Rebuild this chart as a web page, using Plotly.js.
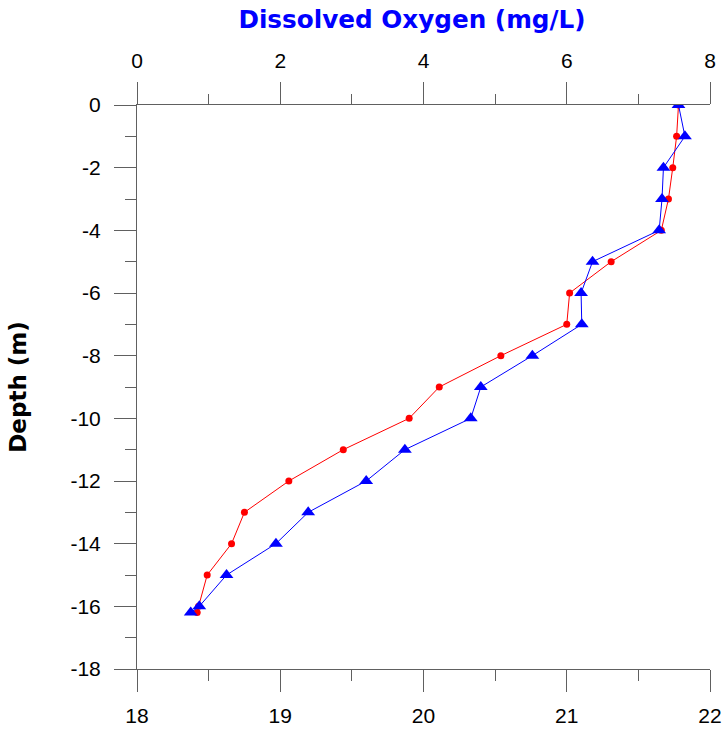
<!DOCTYPE html>
<html>
<head>
<meta charset="utf-8">
<script src="https://cdn.plot.ly/plotly-3.0.1.min.js"></script>
<style>
  html, body { margin: 0; padding: 0; background: #ffffff; }
  #chart { width: 725px; height: 734px; }
</style>
</head>
<body>
<div id="chart"></div>
<script>
// Depth (m)
var depth = [0, -1, -2, -3, -4, -5, -6, -7, -8, -9, -10, -11, -12, -13, -14, -15, -16, -16.2];
// Temperature (bottom axis, red circles)
var temperature = [21.78, 21.767, 21.74, 21.71, 21.66, 21.31, 21.02, 21.00, 20.54, 20.11, 19.90, 19.44, 19.06, 18.75, 18.66, 18.49, 18.43, 18.42];
// Dissolved oxygen mg/L (top axis, blue triangles)
var dissolvedOxygen = [7.56, 7.65, 7.35, 7.33, 7.29, 6.36, 6.20, 6.21, 5.52, 4.80, 4.66, 3.74, 3.20, 2.39, 1.94, 1.25, 0.87, 0.75];

// Tick labels
var depthTicks = [0, -2, -4, -6, -8, -10, -12, -14, -16, -18];
var depthTickText = ['0', '-2', '-4', '-6', '-8', '-10', '-12', '-14', '-16', '-18'];
var tempTicks = [18, 19, 20, 21, 22];
var doTicks = [0, 2, 4, 6, 8];

var axisColor = '#606060';
var tickFont = { family: 'Liberation Sans, Arial, sans-serif', size: 21, color: '#000000' };

var traces = [
  {
    x: temperature, y: depth, xaxis: 'x', yaxis: 'y',
    mode: 'lines+markers', type: 'scatter',
    line: { color: '#ff0000', width: 1 },
    marker: { color: '#ff0000', size: 7, symbol: 'circle' },
    name: 'Temperature', showlegend: false
  },
  {
    x: dissolvedOxygen, y: depth, xaxis: 'x2', yaxis: 'y',
    mode: 'lines+markers', type: 'scatter',
    line: { color: '#0000ff', width: 1 },
    marker: { color: '#0000ff', size: 12, symbol: 'triangle-up' },
    name: 'Dissolved Oxygen', showlegend: false
  }
];

var layout = {
  width: 725, height: 734,
  paper_bgcolor: '#ffffff', plot_bgcolor: '#ffffff',
  margin: { l: 137, r: 15, t: 105, b: 65, pad: 0 },
  showlegend: false,
  title: {
    text: 'Dissolved Oxygen (mg/L)',
    font: { family: 'DejaVu Sans, sans-serif', size: 24.7, color: '#0000ff', weight: 'bold' },
    xref: 'container', yref: 'container',
    x: 412 / 725, xanchor: 'center',
    y: 1 - 19 / 734, yanchor: 'middle'
  },
  xaxis: {
    range: [18, 22], side: 'bottom', anchor: 'y',
    tickmode: 'array', tickvals: tempTicks, ticktext: tempTicks.map(String),
    ticks: 'outside', ticklen: 22, tickwidth: 1, tickcolor: axisColor,
    minor: { dtick: 0.5, tick0: 18, ticks: 'outside', ticklen: 11, tickwidth: 1, tickcolor: axisColor, showgrid: false },
    showline: true, linecolor: axisColor, linewidth: 1,
    showgrid: false, zeroline: false,
    tickfont: tickFont, ticklabelstandoff: 6
  },
  xaxis2: {
    range: [0, 8], side: 'top', overlaying: 'x', anchor: 'y',
    tickmode: 'array', tickvals: doTicks, ticktext: doTicks.map(String),
    ticks: 'outside', ticklen: 22, tickwidth: 1, tickcolor: axisColor,
    minor: { dtick: 1, tick0: 0, ticks: 'outside', ticklen: 10, tickwidth: 1, tickcolor: axisColor, showgrid: false },
    showline: true, linecolor: axisColor, linewidth: 1,
    showgrid: false, zeroline: false,
    tickfont: tickFont, ticklabelstandoff: 6
  },
  yaxis: {
    range: [-18, 0],
    tickmode: 'array', tickvals: depthTicks, ticktext: depthTickText,
    ticks: 'outside', ticklen: 22, tickwidth: 1, tickcolor: axisColor,
    minor: { dtick: 1, tick0: 0, ticks: 'outside', ticklen: 11, tickwidth: 1, tickcolor: axisColor, showgrid: false },
    showline: true, linecolor: axisColor, linewidth: 1,
    showgrid: false, zeroline: false,
    tickfont: tickFont, ticklabelstandoff: 9,
    title: {
      text: 'Depth (m)',
      font: { family: 'DejaVu Sans, sans-serif', size: 23, color: '#000000', weight: 'bold' },
      standoff: 37
    }
  }
};

Plotly.newPlot('chart', traces, layout, { displayModeBar: false, staticPlot: true });
</script>
</body>
</html>
